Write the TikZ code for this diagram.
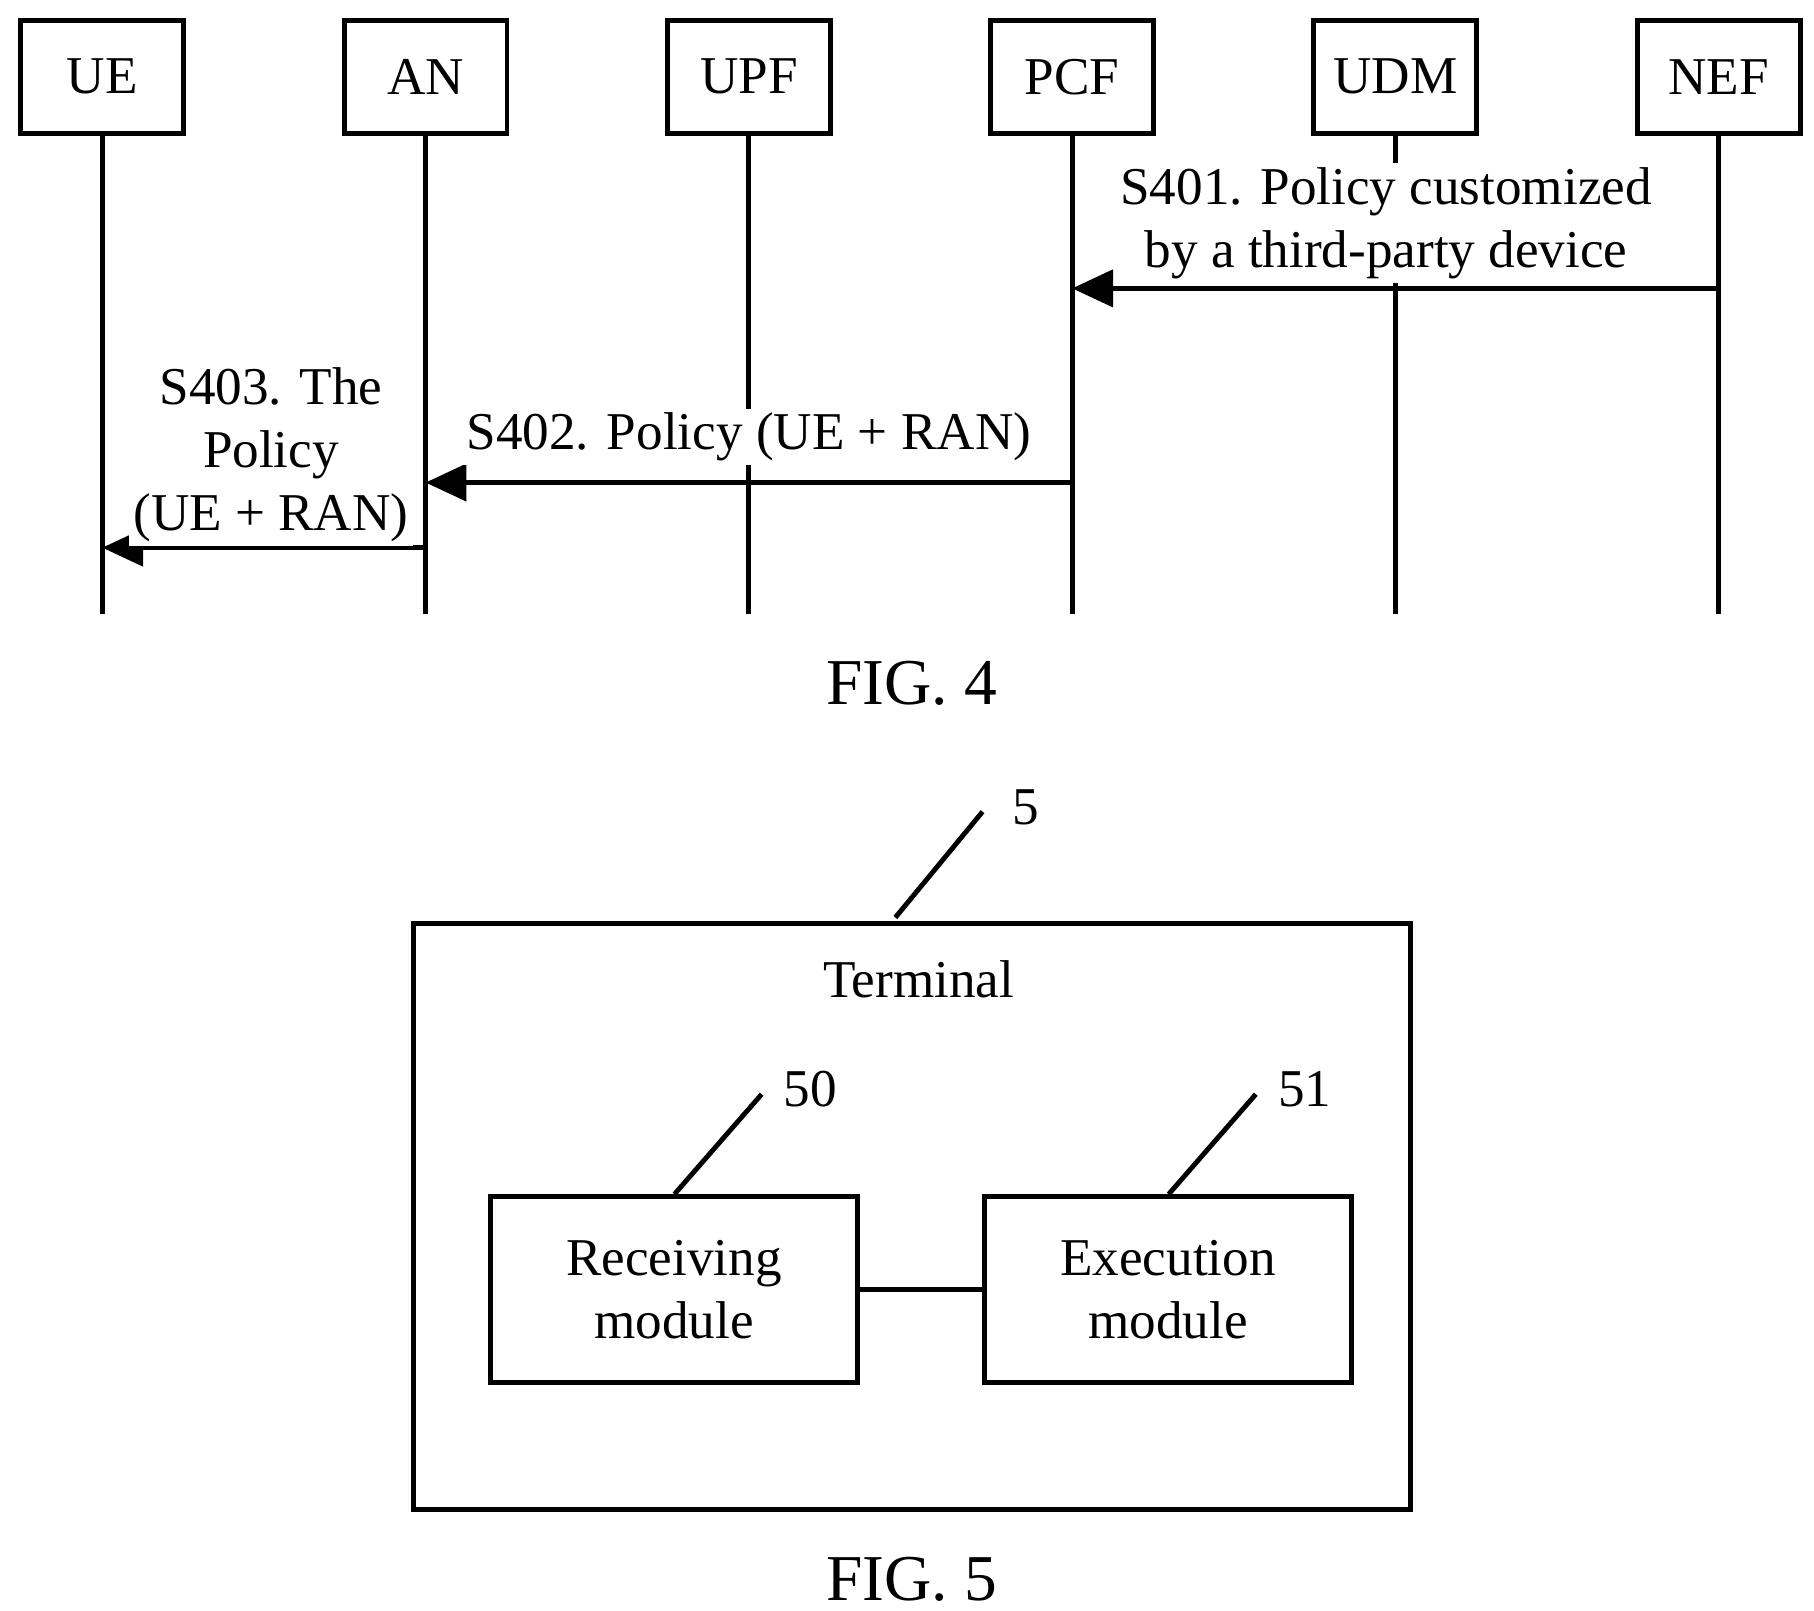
\documentclass[tikz,border=0pt]{standalone}
\usepackage{fontspec}
\setmainfont{Liberation Serif}
\usetikzlibrary{arrows.meta, positioning}
\begin{document}
\begin{tikzpicture}[x=0.01cm, y=-0.01cm,
		ent/.style={draw, line width=1.2pt, minimum width=1.4cm, minimum height=0.97cm, font=\fontsize{13}{15}\selectfont},
		msg/.style={-{Triangle[length=10pt, width=9pt]}, line width=1.2pt},
		lbl/.style={fill=white, inner sep=1pt, align=center, font=\fontsize{13}{15.5}\selectfont},
		mod/.style={draw, line width=1.2pt, minimum width=3.15cm, minimum height=1.6cm, align=center, font=\fontsize{13}{15.5}\selectfont}
	]
	\useasboundingbox (0,0) rectangle (1560,1385);
	% entities and lifelines
	\foreach \n/\x in {UE/88, AN/366, UPF/644, PCF/922, UDM/1200, NEF/1478} {
		\node [ent] (\n) at (\x,66) {\n};
		\coordinate (\n-end) at (\x,528);
		\draw [line width=1.2pt] (\n) -- (\n-end);
	}
	% messages
	\coordinate (s1a) at (1478,248);
	\coordinate (s1b) at (922,248);
	\coordinate (s2a) at (922,415);
	\coordinate (s2b) at (366,415);
	\coordinate (s3a) at (366,471);
	\coordinate (s3b) at (88,471);
	\draw [msg] (s1a) -- (s1b);
	\draw [msg] (s2a) -- (s2b);
	\draw [msg] (s3a) -- (s3b);
	\node [lbl] (l1) at (1192,192) {S401. Policy customized\\by a third-party device};
	\node [lbl] (l2) at (644,376) {S402. Policy (UE + RAN)};
	\node [lbl] (l3) at (233,391) {S403. The\\Policy\\(UE + RAN)};
	\node [font=\fontsize{16}{18}\selectfont] (fig4) at (784,588) {FIG. 4};
	% terminal
	\node [draw, line width=1.2pt, minimum width=8.57cm, minimum height=5.04cm] (term) at (784.5,1046) {};
	\node [font=\fontsize{13}{15}\selectfont] (tlbl) at (790,842) {Terminal};
	\node [mod] (recv) at (579.5,1109) {Receiving\\module};
	\node [mod] (exec) at (1004.5,1109) {Execution\\module};
	\draw [line width=1.2pt] (recv) -- (exec);
	% reference numerals
	\coordinate (t5) at (770,789);
	\coordinate (t5e) at (845,698);
	\coordinate (t50) at (580,1027);
	\coordinate (t50e) at (655,941);
	\coordinate (t51) at (1005,1027);
	\coordinate (t51e) at (1080,941);
	\draw [line width=1.2pt] (t5) -- (t5e);
	\draw [line width=1.2pt] (t50) -- (t50e);
	\draw [line width=1.2pt] (t51) -- (t51e);
	\node [font=\fontsize{13}{15}\selectfont] (n5) at (882,694) {5};
	\node [font=\fontsize{13}{15}\selectfont] (n50) at (697,937) {50};
	\node [font=\fontsize{13}{15}\selectfont] (n51) at (1122,937) {51};
	\node [font=\fontsize{16}{18}\selectfont] (fig5) at (784,1358) {FIG. 5};
\end{tikzpicture}
\end{document}
